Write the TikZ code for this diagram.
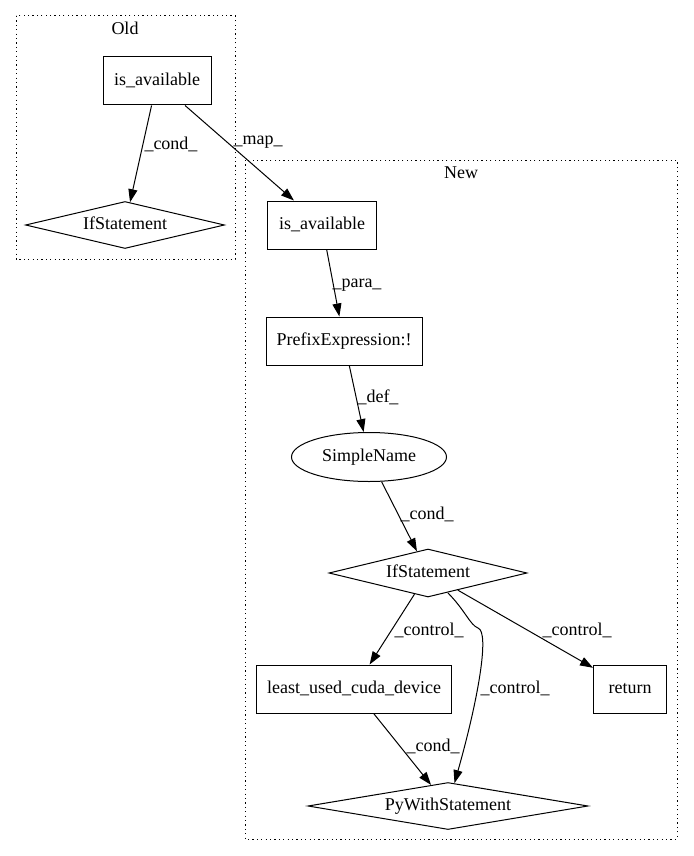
\documentclass[tikz,border=0pt]{standalone}
\usepackage{fontspec}
\setmainfont{Liberation Serif}
\usetikzlibrary{shapes.geometric,arrows.meta}
\begin{document}
\begin{tikzpicture}[x=1pt,y=-1pt,
  every node/.style={font=\fontsize{18pt}{21pt}\selectfont, inner sep=0pt, text height=12pt, text depth=3.5pt},
  box/.style={draw, line width=1pt, rectangle},
  dia/.style={draw, line width=1pt, diamond, aspect=4.2},
  ell/.style={draw, line width=1pt, ellipse},
  cluster/.style={draw, line width=1pt, dash pattern=on 1.2pt off 3.2pt},
  edge/.style={draw, line width=1pt, -{Triangle[length=13pt,width=9pt]}},
  lbl/.style={}]
\useasboundingbox (0,0) rectangle (693,856);
% clusters
\draw[cluster] (16,16) rectangle (235,259);
\node (oldlbl) at (125,30) {Old};
\draw[cluster] (245,160) rectangle (677,839);
\node (newlbl) at (461,174) {New};
% old nodes
\node[box, minimum width=108pt, minimum height=48pt] (oa) at (157,81) {is\_available};
\node[dia, minimum width=199pt, minimum height=47pt] (oif) at (125,225) {IfStatement};
% new nodes
\node[box, minimum width=109pt, minimum height=48pt] (na) at (322,225) {is\_available};
\node[box, minimum width=156pt, minimum height=48pt] (pe) at (344,341) {PrefixExpression:!};
\node[ell, minimum width=155pt, minimum height=49pt] (sn) at (369,457) {SimpleName};
\node[dia, minimum width=198pt, minimum height=48pt] (nif) at (428,573) {IfStatement};
\node[box, minimum width=195pt, minimum height=48pt] (lu) at (354,689) {least\_used\_cuda\_device};
\node[box, minimum width=73pt, minimum height=48pt] (ret) at (630,689) {return};
\node[dia, minimum width=280pt, minimum height=47pt] (pw) at (448,806) {PyWithStatement};
% edges
\draw[edge] (oa) -- (oif);
\node[lbl] (l1) at (171,145) {\_cond\_};
\draw[edge] (oa) -- (na);
\node[lbl] (l2) at (258,140) {\_map\_};
\draw[edge] (na) -- (pe);
\node[lbl] (l3) at (357,283) {\_para\_};
\draw[edge] (pe) -- (sn);
\node[lbl] (l4) at (378,398) {\_def\_};
\draw[edge] (sn) -- (nif);
\node[lbl] (l5) at (427,515) {\_cond\_};
\draw[edge] (nif) -- (lu);
\node[lbl] (l6) at (429,631) {\_control\_};
\draw[edge] (nif) -- (ret);
\node[lbl] (l7) at (577,631) {\_control\_};
\draw[edge] (nif) .. controls (465,610) and (470,625) .. (478,628) .. controls (490,632) and (478,700) .. (pw);
\node[lbl] (l8) at (515,689) {\_control\_};
\draw[edge] (lu) -- (pw);
\node[lbl] (l9) at (433,747) {\_cond\_};
\end{tikzpicture}
\end{document}
